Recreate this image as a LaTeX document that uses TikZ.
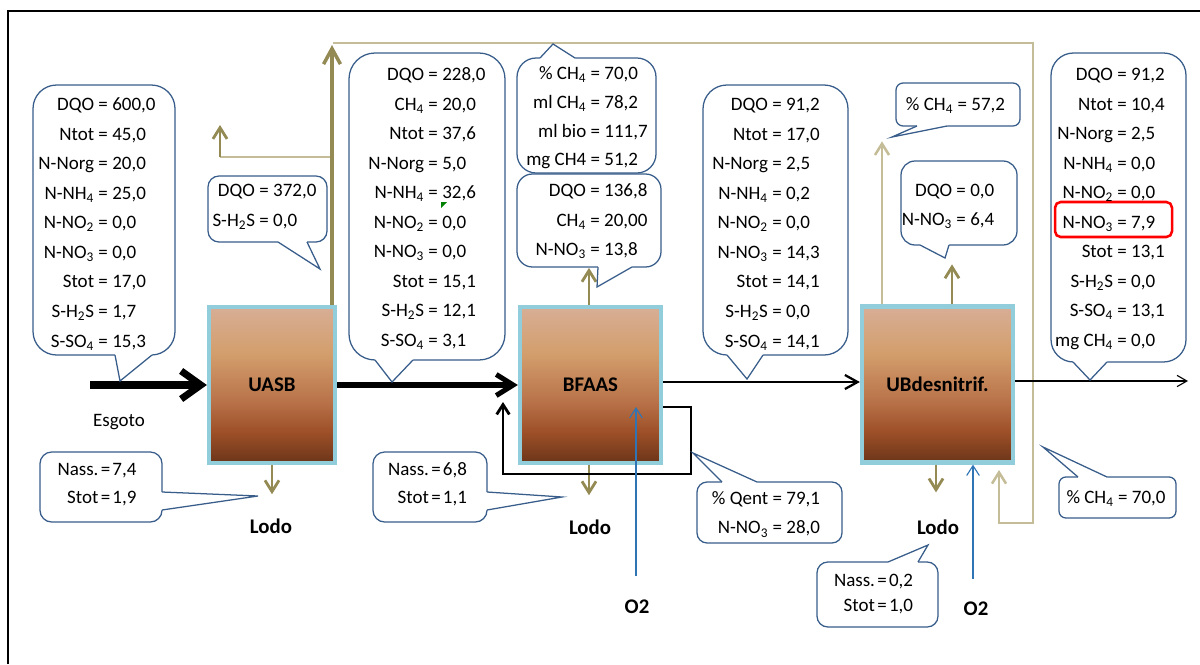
\documentclass[tikz,border=0pt]{standalone}
\usepackage{fontspec}
\setmainfont{Carlito}
\usetikzlibrary{arrows.meta, calc, positioning}

\definecolor{olivegas}{HTML}{948A54}
\definecolor{tangas}{HTML}{C4BD97}
\definecolor{bubbleblue}{HTML}{385D8A}
\definecolor{airblue}{HTML}{2F75B5}
\definecolor{reactoredge}{HTML}{92CDDC}
\definecolor{rtop}{HTML}{D7AE96}
\definecolor{rtan}{HTML}{D39E6C}
\definecolor{rmid}{HTML}{B9734A}
\definecolor{rsienna}{HTML}{9E5028}
\definecolor{rdark}{HTML}{6B3519}

\pgfdeclareverticalshading{reactorfill}{100bp}{color(0bp)=(rdark); color(25bp)=(rdark); color(35bp)=(rsienna); color(45bp)=(rmid); color(60bp)=(rtan); color(75bp)=(rtop); color(100bp)=(rtop)}

% label = value columns
\newenvironment{readings}[1][0.23em]{\begin{tabular}{@{}r@{\hspace{#1}=\hspace{#1}}l@{}}}{\end{tabular}}

% rounded callout: corner, corner, radius, base a, tip, base b, inward shift
\newcommand{\balloon}[7]{%
  \draw[bubble, rounded corners=#3] (#1) rectangle (#2);
  \fill[white] (#4) -- (#5) -- (#6) -- ($(#6)+(#7)$) -- ($(#4)+(#7)$) -- cycle;
  \draw[bubble, fill=none] (#4) -- (#5) -- (#6);}

\begin{document}
\begin{tikzpicture}[x=0.025cm, y=-0.025cm,
    reactor/.style={draw=reactoredge, line width=3pt, shade, shading=reactorfill, minimum height=3.9cm, inner sep=0, font=\fontsize{14.8}{18}\selectfont\bfseries},
    vals/.style={inner sep=0, font=\fontsize{13.5}{21}\selectfont},
    tag/.style={anchor=base, inner sep=0, font=\fontsize{14.8}{18}\selectfont\bfseries},
    bubble/.style={draw=bubbleblue, line width=0.9pt, fill=white},
    esgarrow/.style={black, line width=5pt, -{Straight Barb[length=14pt, width=20pt]}},
    flowthick/.style={black, line width=3.6pt, -{Straight Barb[length=12pt, width=15pt]}},
    flowmid/.style={black, line width=1.6pt, -{Straight Barb[length=9pt, width=10pt]}},
    flowthin/.style={black, line width=0.8pt, -{Straight Barb[length=7pt, width=8pt]}},
    recycle/.style={black, line width=2pt, -{Straight Barb[length=7pt, width=9pt]}},
    sludge/.style={olivegas, line width=2pt, -{Straight Barb[length=8pt, width=10pt]}},
    gasthick/.style={olivegas, line width=2.5pt, -{Straight Barb[length=11pt, width=12pt]}},
    tanline/.style={tangas, line width=1.8pt},
    tanarrow/.style={tanline, -{Straight Barb[length=8pt, width=10pt]}},
    air/.style={airblue, line width=0.8pt, -{Straight Barb[length=7pt, width=9pt]}}]

  \useasboundingbox (0,0) rectangle (1200,664);

  % --- Frame ---
  \draw[line width=2pt] (8,664) -- (8,11) -- (1200,11);

  % --- Reactors ---
  \node[reactor, minimum width=3.15cm] (uasb) at (272,385) {UASB};
  \node[reactor, minimum width=3.525cm] (bfaas) at (590.5,385) {BFAAS};
  \node[reactor, minimum width=3.775cm] (ub) at (937.5,384.5) {UBdesnitrif.};

  % --- Gas lines ---
  \coordinate (gasU) at (332,45);
  \coordinate (flare) at (220,125);
  \coordinate (gasUB) at (999,470);
  \draw[tanarrow] (333,43) -- (1033,43) -- (1033,523) -| (gasUB);
  \draw[tanline] (gasU |- 0,157) -- (flare |- 0,157);
  \draw[sludge] (flare |- 0,157) -- (flare);
  \draw[gasthick] (uasb.north -| gasU) -- (gasU);
  \draw[sludge] (bfaas.north -| 589,0) -- ++(0,-37);
  \draw[tanarrow] (ub.north -| 882,0) -- ++(0,-163);
  \draw[sludge] (ub.north -| 952,0) -- ++(0,-40);

  % --- Sludge ---
  \node[tag] (lodoA) at (271,533) {Lodo};
  \node[tag] (lodoB) at (590,534) {Lodo};
  \node[tag] (lodoC) at (938,534) {Lodo};
  \draw[sludge, shorten >=17pt] (uasb.south) -- (uasb.south |- lodoA.north);
  \draw[sludge, shorten >=17pt] (bfaas.south -| 589,0) -- (589,0 |- lodoB.north);
  \draw[sludge, shorten >=19pt] (ub.south -| 936,0) -- (936,0 |- lodoC.north);

  % --- Liquid line ---
  \coordinate (esg) at (90,385);
  \coordinate (outlet) at (1188,381);
  \node[anchor=base, inner sep=0, font=\fontsize{13.5}{16}\selectfont] (esgoto) at (119,426) {Esgoto};
  \draw[esgarrow] (esg) -- (uasb.west);
  \draw[flowthick] (uasb.east) -- (bfaas.west);
  \draw[flowmid] (bfaas.east |- 0,382) -- (ub.west |- 0,382);
  \draw[flowthin] (ub.east |- outlet) -- (outlet);
  \draw[recycle] (bfaas.east |- 0,407) -| (691,474) -| (503,402);

  % --- Air ---
  \node[tag] (o2a) at (637,613) {O2};
  \node[tag] (o2b) at (976,615) {O2};
  \draw[air] (o2a.north) ++(-1,-23) -- ++(0,-169);
  \draw[air] (o2b.north) ++(-3,-22) -- (ub.south -| 973,0);

  % --- Callouts ---
  \balloon{33,85}{175,355}{16.8pt}{115,355}{120,381}{152,355}{0,-2}
  \balloon{208,176}{327,242}{7.8pt}{278,242}{320,269}{307,242}{0,-2}
  \balloon{349,53}{505,360}{18.5pt}{375,360}{392,382}{413,360}{0,-2}
  \balloon{517,58}{656,173}{13.6pt}{540,58}{553,44}{575,58}{0,2}
  \balloon{517,174}{661,267}{11pt}{598,267}{597,287}{632,267}{0,-2}
  \balloon{703,85}{848,355}{17pt}{727,355}{747,379}{763,355}{0,-2}
  \balloon{896,83}{1020,126}{5pt}{917,126}{892,137}{947,126}{0,-2}
  \balloon{901,161}{1017,245}{10pt}{920,245}{945,258}{949,245}{0,-2}
  \balloon{1051,53}{1186,362}{16pt}{1073,362}{1090,380}{1107,362}{0,-2}
  \balloon{40,452}{162,522}{8.3pt}{162,492}{258,496}{162,510}{-2,0}
  \balloon{373,452}{487,522}{8.3pt}{487,492}{562,497}{487,510}{-2,0}
  \balloon{697,482}{842,543}{7.2pt}{722,482}{693,453}{757,482}{0,2}
  \balloon{817,562}{938,627}{7.7pt}{888,562}{928,545}{918,562}{0,2}
  \balloon{1059,477}{1176,518}{4.9pt}{1078,477}{1043,447}{1107,477}{0,2}

  \draw[red, line width=1.8pt, rounded corners=4pt] (1055,202) rectangle (1172,237);
  \fill[green!50!black] (441,202) -- (447,202) -- (441,208) -- cycle;

  % --- Readings ---
  \node[vals] (infl) at (97,223) {\begin{readings}
    DQO & 600,0\\ Ntot & 45,0\\ N-Norg & 20,0\\ N-NH\textsubscript{4} & 25,0\\
    N-NO\textsubscript{2} & 0,0\\ N-NO\textsubscript{3} & 0,0\\ Stot & 17,0\\
    S-H\textsubscript{2}S & 1,7\\ S-SO\textsubscript{4} & 15,3
  \end{readings}};
  \node[vals] (uasbgas) at (264.5,205.5) {\begin{readings}
    DQO & 372,0\\ S-H\textsubscript{2}S & 0,0
  \end{readings}};
  \node[vals] (uasbout) at (427,207.5) {\begin{readings}
    DQO & 228,0\\ CH\textsubscript{4} & 20,0\\ Ntot & 37,6\\ N-Norg & 5,0\\
    N-NH\textsubscript{4} & 32,6\\ N-NO\textsubscript{2} & 0,0\\ N-NO\textsubscript{3} & 0,0\\
    Stot & 15,1\\ S-H\textsubscript{2}S & 12,1\\ S-SO\textsubscript{4} & 3,1
  \end{readings}};
  \node[vals, font=\fontsize{13.5}{20.4}\selectfont] (bfgas) at (587,117) {\begin{readings}
    \% CH\textsubscript{4} & 70,0\\ ml CH\textsubscript{4} & 78,2\\ ml bio & 111,7\\ mg CH4 & 51,2
  \end{readings}};
  \node[vals] (bftop) at (591.5,220.5) {\begin{readings}
    DQO & 136,8\\ CH\textsubscript{4} & 20,00\\ N-NO\textsubscript{3} & 13,8
  \end{readings}};
  \node[vals] (bfout) at (766,223) {\begin{readings}
    DQO & 91,2\\ Ntot & 17,0\\ N-Norg & 2,5\\ N-NH\textsubscript{4} & 0,2\\
    N-NO\textsubscript{2} & 0,0\\ N-NO\textsubscript{3} & 14,3\\ Stot & 14,1\\
    S-H\textsubscript{2}S & 0,0\\ S-SO\textsubscript{4} & 14,1
  \end{readings}};
  \node[vals] (ubgas) at (955.5,105) {\begin{readings}
    \% CH\textsubscript{4} & 57,2
  \end{readings}};
  \node[vals] (ubtop) at (948,205) {\begin{readings}
    DQO & 0,0\\ N-NO\textsubscript{3} & 6,4
  \end{readings}};
  \node[vals] (final) at (1110,207.5) {\begin{readings}
    DQO & 91,2\\ Ntot & 10,4\\ N-Norg & 2,5\\ N-NH\textsubscript{4} & 0,0\\
    N-NO\textsubscript{2} & 0,0\\ N-NO\textsubscript{3} & 7,9\\ Stot & 13,1\\
    S-H\textsubscript{2}S & 0,0\\ S-SO\textsubscript{4} & 13,1\\ mg CH\textsubscript{4} & 0,0
  \end{readings}};
  \node[vals, font=\fontsize{13.5}{19.9}\selectfont] (sludgeA) at (97,484) {\begin{readings}[0.12em]
    Nass. & 7,4\\ Stot & 1,9
  \end{readings}};
  \node[vals, font=\fontsize{13.5}{19.9}\selectfont] (sludgeB) at (427.5,484) {\begin{readings}[0.12em]
    Nass. & 6,8\\ Stot & 1,1
  \end{readings}};
  \node[vals, font=\fontsize{13.5}{21.3}\selectfont] (recyc) at (766,513) {\begin{readings}
    \% Qent & 79,1\\ N-NO\textsubscript{3} & 28,0
  \end{readings}};
  \node[vals, font=\fontsize{13.5}{17.8}\selectfont] (sludgeC) at (873.5,593.5) {\begin{readings}[0.12em]
    Nass. & 0,2\\ Stot & 1,0
  \end{readings}};
  \node[vals] (ubgas70) at (1116,498) {\begin{readings}
    \% CH\textsubscript{4} & 70,0
  \end{readings}};

\end{tikzpicture}
\end{document}
